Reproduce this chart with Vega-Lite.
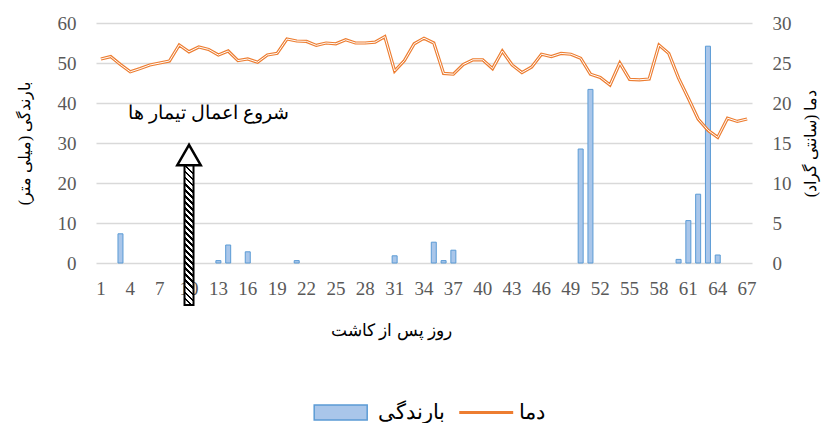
{
  "$schema": "https://vega.github.io/schema/vega-lite/v6.json",
  "width": 656,
  "height": 240,
  "autosize": {"type": "none"},
  "padding": {"left": 96, "top": 23, "right": 79, "bottom": 160},
  "config": {
    "view": {"stroke": null},
    "font": "Liberation Serif",
    "axis": {
      "domain": false,
      "ticks": false,
      "tickSize": 0,
      "labelFont": "Liberation Serif",
      "labelFontSize": 19,
      "labelColor": "#595959",
      "titleFont": "Liberation Serif",
      "titleFontSize": 16,
      "titleFontWeight": "normal",
      "titleColor": "#000000",
      "gridColor": "#d9d9d9",
      "gridWidth": 1.5
    },
    "legend": {
      "labelFont": "Liberation Serif",
      "labelFontSize": 21,
      "labelColor": "#000000"
    }
  },
  "datasets": {
    "main": [
      {"day": 1, "rain": 0, "temp": 25.5},
      {"day": 2, "rain": 0, "temp": 25.8},
      {"day": 3, "rain": 7.3, "temp": 24.8},
      {"day": 4, "rain": 0, "temp": 23.9},
      {"day": 5, "rain": 0, "temp": 24.3},
      {"day": 6, "rain": 0, "temp": 24.75},
      {"day": 7, "rain": 0, "temp": 25.0},
      {"day": 8, "rain": 0, "temp": 25.25},
      {"day": 9, "rain": 0, "temp": 27.25},
      {"day": 10, "rain": 0, "temp": 26.4},
      {"day": 11, "rain": 0, "temp": 27.0},
      {"day": 12, "rain": 0, "temp": 26.7},
      {"day": 13, "rain": 0.6, "temp": 26.0},
      {"day": 14, "rain": 4.5, "temp": 26.5},
      {"day": 15, "rain": 0, "temp": 25.3},
      {"day": 16, "rain": 2.8, "temp": 25.5},
      {"day": 17, "rain": 0, "temp": 25.1},
      {"day": 18, "rain": 0, "temp": 26.0},
      {"day": 19, "rain": 0, "temp": 26.2},
      {"day": 20, "rain": 0, "temp": 28.0},
      {"day": 21, "rain": 0.6, "temp": 27.75},
      {"day": 22, "rain": 0, "temp": 27.7},
      {"day": 23, "rain": 0, "temp": 27.2},
      {"day": 24, "rain": 0, "temp": 27.5},
      {"day": 25, "rain": 0, "temp": 27.4},
      {"day": 26, "rain": 0, "temp": 27.9},
      {"day": 27, "rain": 0, "temp": 27.5},
      {"day": 28, "rain": 0, "temp": 27.5},
      {"day": 29, "rain": 0, "temp": 27.6},
      {"day": 30, "rain": 0, "temp": 28.3},
      {"day": 31, "rain": 1.8, "temp": 24.0},
      {"day": 32, "rain": 0, "temp": 25.3},
      {"day": 33, "rain": 0, "temp": 27.4},
      {"day": 34, "rain": 0, "temp": 28.1},
      {"day": 35, "rain": 5.2, "temp": 27.5},
      {"day": 36, "rain": 0.6, "temp": 23.7},
      {"day": 37, "rain": 3.2, "temp": 23.6},
      {"day": 38, "rain": 0, "temp": 24.8},
      {"day": 39, "rain": 0, "temp": 25.4},
      {"day": 40, "rain": 0, "temp": 25.4},
      {"day": 41, "rain": 0, "temp": 24.3},
      {"day": 42, "rain": 0, "temp": 26.5},
      {"day": 43, "rain": 0, "temp": 24.75},
      {"day": 44, "rain": 0, "temp": 23.8},
      {"day": 45, "rain": 0, "temp": 24.5},
      {"day": 46, "rain": 0, "temp": 26.1},
      {"day": 47, "rain": 0, "temp": 25.8},
      {"day": 48, "rain": 0, "temp": 26.2},
      {"day": 49, "rain": 0, "temp": 26.1},
      {"day": 50, "rain": 28.5, "temp": 25.6},
      {"day": 51, "rain": 43.4, "temp": 23.6},
      {"day": 52, "rain": 0, "temp": 23.2},
      {"day": 53, "rain": 0, "temp": 22.25},
      {"day": 54, "rain": 0, "temp": 25.0},
      {"day": 55, "rain": 0, "temp": 22.95},
      {"day": 56, "rain": 0, "temp": 22.9},
      {"day": 57, "rain": 0, "temp": 23.0},
      {"day": 58, "rain": 0, "temp": 27.25},
      {"day": 59, "rain": 0, "temp": 26.2},
      {"day": 60, "rain": 0.9, "temp": 23.1},
      {"day": 61, "rain": 10.6, "temp": 20.6},
      {"day": 62, "rain": 17.2, "temp": 18.0},
      {"day": 63, "rain": 54.2, "temp": 16.6},
      {"day": 64, "rain": 2.0, "temp": 15.7},
      {"day": 65, "rain": 0, "temp": 18.1},
      {"day": 66, "rain": 0, "temp": 17.7},
      {"day": 67, "rain": 0, "temp": 18.0}
    ],
    "arrow": [{"day": 10, "lo": -10.5, "hi": 25.5, "tip": 27.0}],
    "note": [{"day": 12, "v": 37.5, "label": "شروع اعمال تیمار ها"}]
  },
  "layer": [
    {
      "data": {"name": "main"},
      "transform": [{"filter": "datum.rain > 0"}],
      "mark": {"type": "bar", "size": 5, "stroke": "#5b9bd5", "strokeWidth": 1},
      "encoding": {
        "x": {
          "field": "day", "type": "ordinal",
          "axis": {
            "values": [1,4,7,10,13,16,19,22,25,28,31,34,37,40,43,46,49,52,55,58,61,64,67],
            "labelAngle": 0, "labelPadding": 16, "title": "روز پس از کاشت", "titleFontSize": 17, "titleX": 295, "titleAnchor": "start", "titleAlign": "center", "titlePadding": 24, "grid": false
          }
        },
        "y": {
          "field": "rain", "type": "quantitative",
          "scale": {"domain": [0, 60]},
          "axis": {"values": [0,10,20,30,40,50,60], "labelPadding": 20, "title": "بارندگی  (میلی متر)", "titlePadding": 25, "grid": true}
        },
        "fill": {
          "datum": "بارندگی",
          "scale": {"range": ["#a9c6ea"]},
          "legend": {
            "title": null, "orient": "none", "legendX": 218, "legendY": 379,
            "symbolType": "M-1.19,-0.87H4.93V0.87H-1.19Z", "symbolSize": 300,
            "symbolStrokeColor": "#5b9bd5", "symbolStrokeWidth": 1.5, "labelOffset": 42.7
          }
        }
      }
    },
    {
      "data": {"name": "main"},
      "mark": {"type": "line", "strokeWidth": 3.2},
      "encoding": {
        "x": {"field": "day", "type": "ordinal"},
        "y": {
          "field": "temp", "type": "quantitative",
          "scale": {"domain": [0, 30]},
          "axis": {"orient": "right", "values": [0,5,10,15,20,25,30], "labelPadding": 20, "title": "دما (سانتی گراد)", "titleAngle": 270, "titleBaseline": "top", "titlePadding": 11, "grid": false}
        },
        "stroke": {
          "datum": "دما",
          "scale": {"range": ["#ed7d31"]},
          "legend": {
            "title": null, "orient": "none", "legendX": 364, "legendY": 379,
            "symbolType": "M-1.3,0H4.93", "symbolSize": 300, "symbolStrokeWidth": 3, "labelOffset": 38
          }
        }
      }
    },
    {
      "data": {"name": "main"},
      "mark": {"type": "line", "strokeWidth": 1, "stroke": "#ffffff"},
      "encoding": {
        "x": {"field": "day", "type": "ordinal"},
        "y": {"field": "temp", "type": "quantitative", "scale": {"domain": [0, 30]}, "axis": null}
      }
    },
    {
      "data": {"name": "arrow"},
      "mark": {
        "type": "bar", "size": 9, "stroke": "#000000", "strokeWidth": 2,
        "fill": {
          "gradient": "linear", "x1": 0.0625, "y1": 0, "x2": 0, "y2": 1,
          "stops": [
            {"offset": 0, "color": "#ffffff"}, {"offset": 0.025, "color": "#ffffff"}, {"offset": 0.025, "color": "#000000"}, {"offset": 0.0417, "color": "#000000"},
            {"offset": 0.0417, "color": "#ffffff"}, {"offset": 0.0667, "color": "#ffffff"}, {"offset": 0.0667, "color": "#000000"}, {"offset": 0.0833, "color": "#000000"},
            {"offset": 0.0833, "color": "#ffffff"}, {"offset": 0.1083, "color": "#ffffff"}, {"offset": 0.1083, "color": "#000000"}, {"offset": 0.125, "color": "#000000"},
            {"offset": 0.125, "color": "#ffffff"}, {"offset": 0.15, "color": "#ffffff"}, {"offset": 0.15, "color": "#000000"}, {"offset": 0.1667, "color": "#000000"},
            {"offset": 0.1667, "color": "#ffffff"}, {"offset": 0.1917, "color": "#ffffff"}, {"offset": 0.1917, "color": "#000000"}, {"offset": 0.2083, "color": "#000000"},
            {"offset": 0.2083, "color": "#ffffff"}, {"offset": 0.2333, "color": "#ffffff"}, {"offset": 0.2333, "color": "#000000"}, {"offset": 0.25, "color": "#000000"},
            {"offset": 0.25, "color": "#ffffff"}, {"offset": 0.275, "color": "#ffffff"}, {"offset": 0.275, "color": "#000000"}, {"offset": 0.2917, "color": "#000000"},
            {"offset": 0.2917, "color": "#ffffff"}, {"offset": 0.3167, "color": "#ffffff"}, {"offset": 0.3167, "color": "#000000"}, {"offset": 0.3333, "color": "#000000"},
            {"offset": 0.3333, "color": "#ffffff"}, {"offset": 0.3583, "color": "#ffffff"}, {"offset": 0.3583, "color": "#000000"}, {"offset": 0.375, "color": "#000000"},
            {"offset": 0.375, "color": "#ffffff"}, {"offset": 0.4, "color": "#ffffff"}, {"offset": 0.4, "color": "#000000"}, {"offset": 0.4167, "color": "#000000"},
            {"offset": 0.4167, "color": "#ffffff"}, {"offset": 0.4417, "color": "#ffffff"}, {"offset": 0.4417, "color": "#000000"}, {"offset": 0.4583, "color": "#000000"},
            {"offset": 0.4583, "color": "#ffffff"}, {"offset": 0.4833, "color": "#ffffff"}, {"offset": 0.4833, "color": "#000000"}, {"offset": 0.5, "color": "#000000"},
            {"offset": 0.5, "color": "#ffffff"}, {"offset": 0.525, "color": "#ffffff"}, {"offset": 0.525, "color": "#000000"}, {"offset": 0.5417, "color": "#000000"},
            {"offset": 0.5417, "color": "#ffffff"}, {"offset": 0.5667, "color": "#ffffff"}, {"offset": 0.5667, "color": "#000000"}, {"offset": 0.5833, "color": "#000000"},
            {"offset": 0.5833, "color": "#ffffff"}, {"offset": 0.6083, "color": "#ffffff"}, {"offset": 0.6083, "color": "#000000"}, {"offset": 0.625, "color": "#000000"},
            {"offset": 0.625, "color": "#ffffff"}, {"offset": 0.65, "color": "#ffffff"}, {"offset": 0.65, "color": "#000000"}, {"offset": 0.6667, "color": "#000000"},
            {"offset": 0.6667, "color": "#ffffff"}, {"offset": 0.6917, "color": "#ffffff"}, {"offset": 0.6917, "color": "#000000"}, {"offset": 0.7083, "color": "#000000"},
            {"offset": 0.7083, "color": "#ffffff"}, {"offset": 0.7333, "color": "#ffffff"}, {"offset": 0.7333, "color": "#000000"}, {"offset": 0.75, "color": "#000000"},
            {"offset": 0.75, "color": "#ffffff"}, {"offset": 0.775, "color": "#ffffff"}, {"offset": 0.775, "color": "#000000"}, {"offset": 0.7917, "color": "#000000"},
            {"offset": 0.7917, "color": "#ffffff"}, {"offset": 0.8167, "color": "#ffffff"}, {"offset": 0.8167, "color": "#000000"}, {"offset": 0.8333, "color": "#000000"},
            {"offset": 0.8333, "color": "#ffffff"}, {"offset": 0.8583, "color": "#ffffff"}, {"offset": 0.8583, "color": "#000000"}, {"offset": 0.875, "color": "#000000"},
            {"offset": 0.875, "color": "#ffffff"}, {"offset": 0.9, "color": "#ffffff"}, {"offset": 0.9, "color": "#000000"}, {"offset": 0.9167, "color": "#000000"},
            {"offset": 0.9167, "color": "#ffffff"}, {"offset": 0.9417, "color": "#ffffff"}, {"offset": 0.9417, "color": "#000000"}, {"offset": 0.9583, "color": "#000000"},
            {"offset": 0.9583, "color": "#ffffff"}, {"offset": 0.9833, "color": "#ffffff"}, {"offset": 0.9833, "color": "#000000"}, {"offset": 1, "color": "#000000"}
          ]
        }
      },
      "encoding": {
        "x": {"field": "day", "type": "ordinal"},
        "y": {"field": "lo", "type": "quantitative", "scale": {"domain": [0, 60]}, "axis": null},
        "y2": {"field": "hi"}
      }
    },
    {
      "data": {"name": "arrow"},
      "mark": {"type": "point", "shape": "triangle-up", "size": 550, "filled": true, "fill": "#ffffff", "stroke": "#000000", "strokeWidth": 2.5, "opacity": 1},
      "encoding": {
        "x": {"field": "day", "type": "ordinal"},
        "y": {"field": "tip", "type": "quantitative", "scale": {"domain": [0, 60]}, "axis": null}
      }
    },
    {
      "data": {"name": "note"},
      "mark": {"type": "text", "fontSize": 19, "color": "#000000", "align": "center", "baseline": "middle"},
      "encoding": {
        "x": {"field": "day", "type": "ordinal"},
        "y": {"field": "v", "type": "quantitative", "scale": {"domain": [0, 60]}, "axis": null},
        "text": {"field": "label"}
      }
    }
  ],
  "resolve": {"scale": {"y": "independent", "fill": "independent", "stroke": "independent"}}
}
